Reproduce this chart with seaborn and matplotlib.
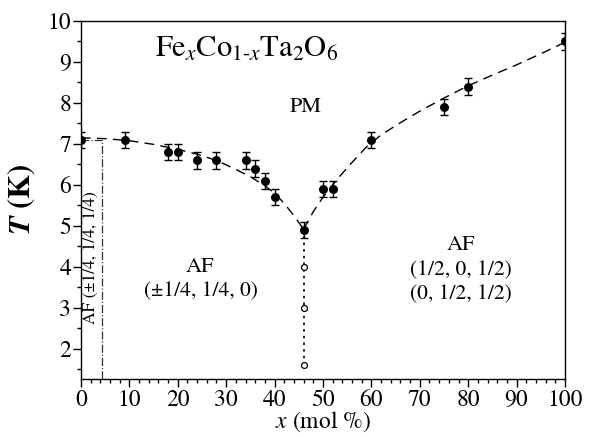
import numpy as np
import pandas as pd
import seaborn as sns
import matplotlib.pyplot as plt

# measured points (filled circles with error bars)
x_pts = [0, 9, 18, 20, 24, 28, 34, 36, 38, 40, 46, 50, 52, 60, 75, 80, 100]
t_pts = [7.1, 7.1, 6.8, 6.8, 6.6, 6.6, 6.6, 6.4, 6.1, 5.7, 4.9, 5.9, 5.9, 7.1, 7.9, 8.4, 9.5]
t_err = [0.2] * len(x_pts)

# open circles below the cusp
x_open = [46, 46, 46]
t_open = [4.0, 3.0, 1.6]

# dashed guide line
x_left = [0, 5, 10, 15, 20, 24, 28, 32, 35, 38, 40, 42, 44, 46]
t_left = [7.15, 7.13, 7.08, 6.99, 6.87, 6.75, 6.6, 6.38, 6.2, 5.98, 5.8, 5.55, 5.25, 4.92]
x_right = [46, 48, 50, 53, 56, 59, 62, 66, 70, 75, 80, 85, 90, 95, 100]
t_right = [4.92, 5.35, 5.7, 6.15, 6.55, 6.93, 7.22, 7.52, 7.8, 8.12, 8.42, 8.68, 8.93, 9.2, 9.48]

# dash-dot boundary of the commensurate phase
x_bound = [0, 4.3, 4.3]
t_bound = [7.1, 7.1, 1.27]

FONT = 'TeX Gyre Termes'

sns.set_style('ticks')
plt.rcParams['font.family'] = [FONT, 'Liberation Serif', 'DejaVu Serif']
plt.rcParams['mathtext.fontset'] = 'custom'
plt.rcParams['mathtext.rm'] = FONT
plt.rcParams['mathtext.it'] = FONT + ':italic'
plt.rcParams['mathtext.bf'] = FONT + ':bold'
plt.rcParams['mathtext.bfit'] = FONT + ':bold:italic'
for k in ['text.color', 'axes.labelcolor', 'xtick.color', 'ytick.color', 'axes.edgecolor']:
    plt.rcParams[k] = 'black'

fig = plt.figure(figsize=(5.91, 4.37), dpi=100)
ax = fig.add_axes([0.137, 0.133, 0.819, 0.819])

dash = dict(color='black', lw=1.0, dashes=(7, 4.5))
sns.lineplot(x=x_left, y=t_left, ax=ax, sort=False, **dash)
sns.lineplot(x=x_right, y=t_right, ax=ax, sort=False, **dash)
ax.plot(x_bound, t_bound, color='#333333', lw=0.9, ls='-.')
ax.plot([46, 46], [1.6, 4.9], color='black', lw=1.2, ls=(0, (1.5, 2.5)))

ax.errorbar(x_pts, t_pts, yerr=t_err, fmt='none', ecolor='black',
            elinewidth=1.0, capsize=3, capthick=1.0, zorder=3)
sns.scatterplot(x=x_pts, y=t_pts, ax=ax, color='black', s=42,
                edgecolor='black', linewidth=0, zorder=4)
sns.scatterplot(x=x_open, y=t_open, ax=ax, color='white', s=18,
                edgecolor='black', linewidth=0.9, zorder=4)

ax.set_xlim(0, 100)
ax.set_ylim(1.27, 10)
ax.set_xticks(np.arange(0, 101, 10))
ax.set_xticks(np.arange(0, 101, 2), minor=True)
ax.set_yticks(np.arange(2, 11, 1))
ax.set_yticks(np.arange(1.5, 10.01, 0.5), minor=True)
ax.tick_params(which='major', direction='out', length=6, width=1, labelsize=17)
ax.tick_params(axis='y', which='major', pad=1)
ax.tick_params(axis='x', which='major', pad=2)
ax.tick_params(which='minor', direction='out', length=3, width=1)
for s in ax.spines.values():
    s.set_linewidth(1.0)
    s.set_color('black')

ax.set_xlabel(r'$x$ (mol %)', fontsize=17, labelpad=-1)
ax.set_ylabel(r'$\boldsymbol{T}$ (K)', fontsize=22, fontweight='bold', labelpad=8)

ax.text(34.3, 9.3, r'Fe$_x$Co$_{\mathregular{1\text{-}}x}$Ta$_2$O$_6$', fontsize=22,
        ha='center', va='center')
ax.text(46.5, 7.9, 'PM', fontsize=16, ha='center', va='center')
ax.text(24.6, 4.0, 'AF', fontsize=16, ha='center', va='center')
ax.text(24.8, 3.4, '(±1/4, 1/4, 0)', fontsize=15.5, ha='center', va='center')
ax.text(78.5, 4.54, 'AF', fontsize=16, ha='center', va='center')
ax.text(78.5, 3.92, '(1/2, 0, 1/2)', fontsize=15.5, ha='center', va='center')
ax.text(78.5, 3.34, '(0, 1/2, 1/2)', fontsize=15.5, ha='center', va='center')
ax.text(2.0, 4.22, 'AF (±1/4, 1/4, 1/4)', fontsize=12.5, rotation=90,
        ha='center', va='center')

fig.savefig('out.png', dpi=100)
